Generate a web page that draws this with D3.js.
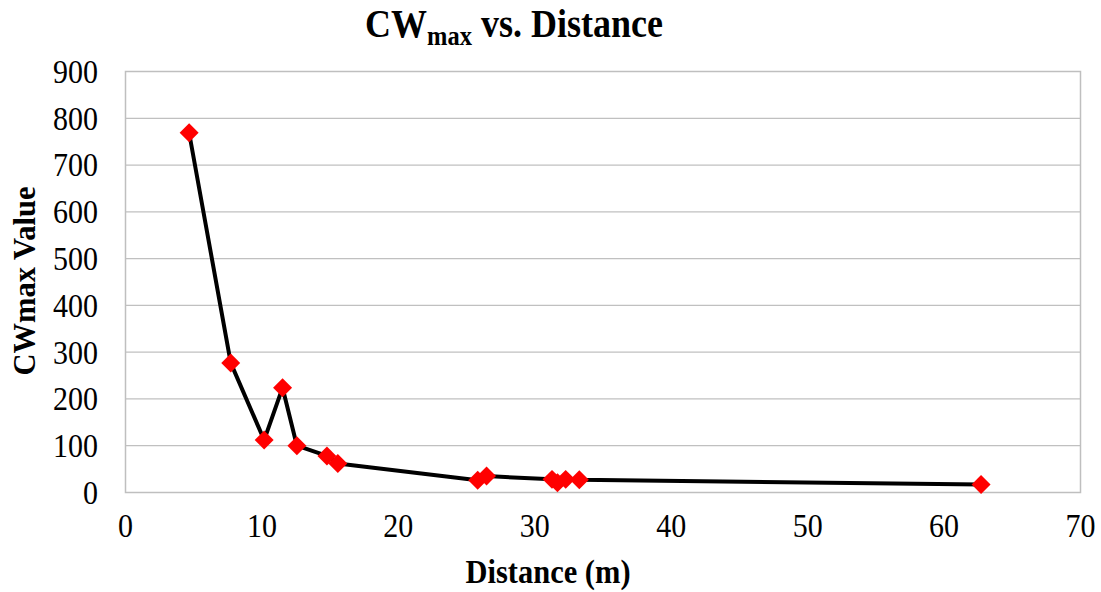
<!DOCTYPE html>
<html lang="en">
<head>
    <meta charset="UTF-8">
    <title>CWmax vs. Distance</title>
    <script src="https://cdn.jsdelivr.net/npm/d3@7"></script>
    <style>
        body { margin: 0; background: #fff; }
        text { font-family: "Liberation Serif", "Times New Roman", serif; fill: #000; }
    </style>
</head>
<body>
<script>
    // values
    const distance = [4.7, 7.75, 10.2, 11.55, 12.6, 14.8, 15.6, 25.85, 26.5, 31.3, 31.7, 32.3, 33.3, 62.75]
    const cwmax = [768, 276, 111, 223, 99, 77, 61, 25, 34, 27, 20, 27, 26, 16]
    const xTicks = [0, 10, 20, 30, 40, 50, 60, 70]
    const yTicks = [0, 100, 200, 300, 400, 500, 600, 700, 800, 900]

    const [width, height] = [1101, 592]
    const plot = {left: 125, right: 1080, top: 71, bottom: 492}
    const stretch = 1.12 // text in the original is a bit taller than wide

    const x = d3.scaleLinear().domain([0, 70]).range([plot.left, plot.right])
    const y = d3.scaleLinear().domain([0, 900]).range([plot.bottom, plot.top])
    const data = distance.map((d, i) => ({x: d, y: cwmax[i]}))

    const svg = d3.select('body').append('svg')
        .attr('width', width)
        .attr('height', height)

    // gridlines
    svg.append('g').selectAll('line').data(yTicks.slice(1, -1))
        .enter().append('line')
        .attr('x1', plot.left).attr('x2', plot.right)
        .attr('y1', d => y(d) + 0.5).attr('y2', d => y(d) + 0.5)
        .attr('stroke', '#c0c0c0').attr('stroke-width', 1.3)

    // frame
    svg.append('rect')
        .attr('x', plot.left + 0.5).attr('y', plot.top + 0.5)
        .attr('width', plot.right - plot.left).attr('height', plot.bottom - plot.top)
        .attr('fill', 'none').attr('stroke', '#bfbfbf').attr('stroke-width', 1.5)

    // axes (labels only)
    const yAxis = svg.append('g')
        .attr('transform', `translate(${plot.left},0)`)
        .call(d3.axisLeft(y).tickValues(yTicks).tickSize(0).tickPadding(27))
    yAxis.selectAll('text').attr('dy', '0.34em')
    const xAxis = svg.append('g')
        .attr('transform', `translate(0,${plot.bottom})`)
        .call(d3.axisBottom(x).tickValues(xTicks).tickSize(0).tickPadding(0))
    xAxis.selectAll('text').attr('y', 0).attr('dy', 0)
        .attr('transform', `translate(0,45) scale(1,${stretch})`)
    yAxis.selectAll('text').attr('transform', `scale(1,${stretch})`)
    ;[yAxis, xAxis].forEach(g => {
        g.select('.domain').remove()
        g.selectAll('text')
            .style('font-family', '"Liberation Serif", "Times New Roman", serif')
            .style('font-size', '30px')
            .attr('fill', '#000')
    })

    // line
    const line = d3.line().x(d => x(d.x)).y(d => y(d.y))
    svg.append('path').datum(data)
        .attr('d', line)
        .attr('fill', 'none')
        .attr('stroke', '#000')
        .attr('stroke-width', 4)
        .attr('stroke-linejoin', 'round')

    // diamond markers
    const diamond = d3.symbol().type(d3.symbolSquare).size(180)
    svg.append('g').selectAll('path').data(data)
        .enter().append('path')
        .attr('d', diamond)
        .attr('transform', d => `translate(${x(d.x)},${y(d.y)}) rotate(45)`)
        .attr('fill', '#ff0000')

    // title
    const title = svg.append('text')
        .attr('transform', `translate(514,37) scale(1,${stretch})`)
        .attr('text-anchor', 'middle')
        .style('font-size', '36px').style('font-weight', 'bold')
    title.append('tspan').text('CW')
    title.append('tspan').text('max').style('font-size', '24.5px').attr('dy', 7)
    title.append('tspan').text(' vs. Distance').attr('dy', -7)

    // axis titles
    svg.append('text')
        .attr('transform', `translate(548,583) scale(1,${stretch})`)
        .attr('text-anchor', 'middle')
        .style('font-size', '30.5px').style('font-weight', 'bold')
        .text('Distance (m)')
    svg.append('text')
        .attr('transform', 'translate(35,281) rotate(-90)')
        .attr('text-anchor', 'middle')
        .style('font-size', '30.5px').style('font-weight', 'bold')
        .text('CWmax Value')
</script>
</body>
</html>
